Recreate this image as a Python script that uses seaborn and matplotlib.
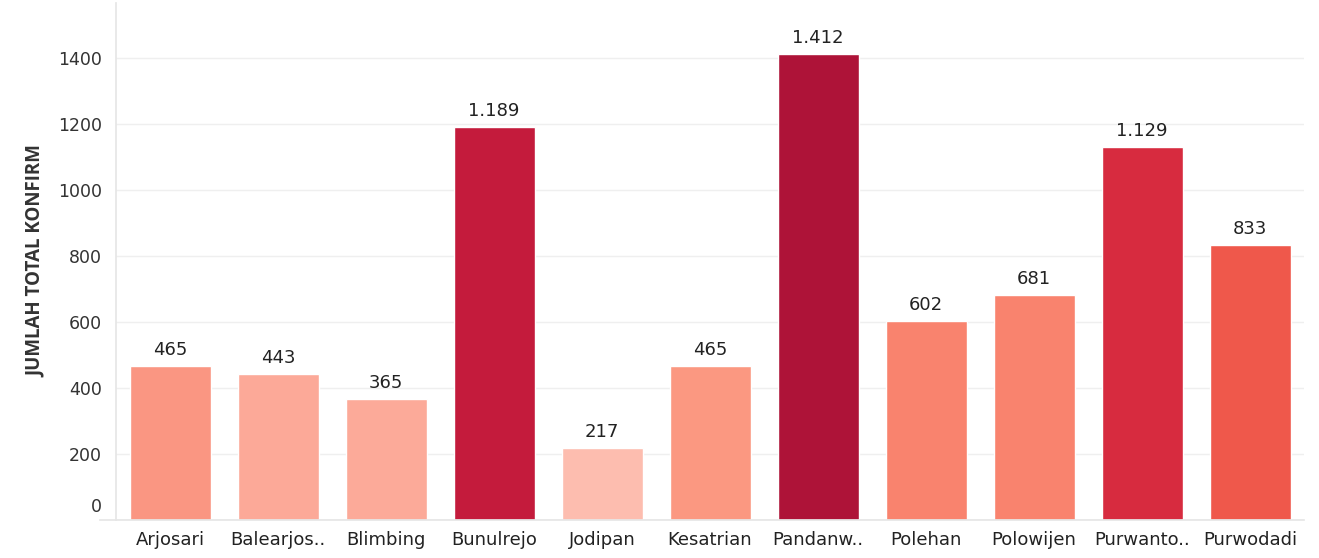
import matplotlib
matplotlib.use("Agg")
import matplotlib.pyplot as plt
import seaborn as sns
import pandas as pd
import numpy as np

kelurahan = ["Arjosari", "Balearjos..", "Blimbing", "Bunulrejo", "Jodipan", "Kesatrian",
             "Pandanw..", "Polehan", "Polowijen", "Purwanto..", "Purwodadi"]
total_konfirm = [465, 443, 365, 1189, 217, 465, 1412, 602, 681, 1129, 833]
bar_colors = ["#FA9682", "#FCA998", "#FCAA99", "#C41B3C", "#FDBDAF", "#FB9881",
              "#AE1338", "#F9836E", "#F9836E", "#D72B3F", "#EF584B"]
y_ticks = [0, 200, 400, 600, 800, 1000, 1200, 1400]

sns.set_theme(style="white")
plt.rcParams["font.family"] = ["DejaVu Sans"]

df = pd.DataFrame({"kelurahan": kelurahan, "total": total_konfirm})

fig = plt.figure(figsize=(13.19, 5.58), dpi=100)
ax = fig.add_axes([116 / 1319, (558 - 520) / 558, (1304 - 116) / 1319, (520 - 3) / 558])

sns.barplot(data=df, x="kelurahan", y="total", hue="kelurahan", palette=bar_colors,
            width=0.75, legend=False, ax=ax, saturation=1)

for i, v in enumerate(total_konfirm):
    txt = f"{v:,}".replace(",", ".")
    ax.annotate(txt, (i, v), xytext=(0, 5), textcoords="offset points",
                ha="center", va="bottom", fontsize=13, color="#222222")

ax.set_xlim(-0.5, len(kelurahan) - 0.5)
ax.set_ylim(0, 1565)
ax.set_yticks(y_ticks)
# the zero label sits a little above the baseline, drawn separately below
ax.set_yticklabels(["" if t == 0 else str(t) for t in y_ticks], fontsize=12.5, color="#333333")
ax.annotate("0", xy=(0, 0), xycoords=ax.get_yaxis_transform(),
            xytext=(-10, 9), textcoords="offset points",
            ha="right", va="center", fontsize=12.5, color="#333333")
ax.yaxis.grid(True, color="#EFEFEF", linewidth=1)
ax.set_axisbelow(True)

ax.set_xlabel("")
ax.set_ylabel("JUMLAH TOTAL KONFIRM", fontsize=13.5, fontweight="bold", color="#333333",
              labelpad=9, family=["Open Sans", "DejaVu Sans"])
ax.tick_params(axis="x", labelsize=13, colors="#222222", length=0, pad=8)
ax.tick_params(axis="y", length=0, pad=10)

# category dividers below the baseline
ax.set_xticks(np.arange(-0.5, len(kelurahan), 1.0), minor=True)
ax.tick_params(axis="x", which="minor", length=6, color="#E6E6E6", width=1, direction="out")

for side in ["top", "right"]:
    ax.spines[side].set_visible(False)
ax.spines["left"].set_color("#E6E6E6")
ax.spines["bottom"].set_color("#E6E6E6")
ax.spines["bottom"].set_bounds(-0.65, len(kelurahan) - 0.5)

fig.savefig("out.png", dpi=100)
